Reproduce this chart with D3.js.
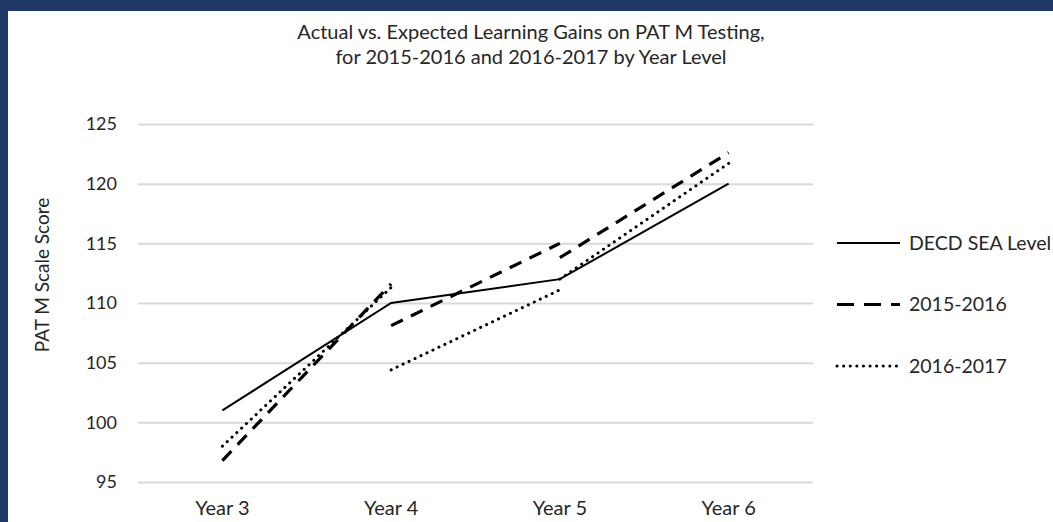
<!DOCTYPE html>
<html lang="en">
    <head>
        <meta charset="utf-8">
        <title>PAT M learning gains</title>
        <script src="https://d3js.org/d3.v7.min.js"></script>
        <style type="text/css">
        body {
            margin: 0;
            background: #1f3864;
        }
        svg {
            display: block;
        }
        text {
            font-family: Lato, "Open Sans", sans-serif;
            fill: #262626;
        }
        .title {
            font-size: 20px;
        }
        .yaxis .tick text {
            font-size: 18px;
        }
        .xaxis .tick text {
            font-size: 20px;
        }
        .legend {
            font-size: 19.5px;
        }
        </style>
    </head>
    <body>
        <svg width="1053" height="522"></svg>

    <script type="text/javascript">

            // data
            const years = ["Year 3", "Year 4", "Year 5", "Year 6"];
            const seaLevel = [101, 110, 112, 120];

            // cohorts are drawn as one segment per year-to-year gain
            const cohort1516Start = [96.8, 108.1, 113.8];
            const cohort1516End = [111.6, 115.0, 122.6];
            const cohort1617Start = [98.0, 104.4, 112.0];
            const cohort1617End = [111.3, 111.1, 121.7];

            const yTicks = [95, 100, 105, 110, 115, 120, 125];
            const legendNames = ["DECD SEA Level", "2015-2016", "2016-2017"];

            const svg = d3.select("svg");
            const w = 1053;
            const h = 522;

            //white panel inside the navy frame
            svg.append("rect")
               .attr("x", 8)
               .attr("y", 11)
               .attr("width", w - 8)
               .attr("height", h - 11)
               .attr("fill", "white");

            const plotLeft = 138;
            const plotRight = 813;
            const plotTop = 124;
            const plotBottom = 482;

            const xScale = d3.scaleBand()
                             .domain(years)
                             .range([plotLeft, plotRight]);

            const yScale = d3.scaleLinear()
                             .domain([95, 125])
                             .range([plotBottom, plotTop]);

            const xc = d => xScale(d) + xScale.bandwidth() / 2;

            //gridlines + left labels
            const leftAxis = d3.axisLeft(yScale)
                               .tickValues(yTicks)
                               .tickSize(-(plotRight - plotLeft))
                               .tickPadding(21);

            const gy = svg.append("g")
                          .attr("class", "yaxis")
                          .attr("transform", "translate(" + plotLeft + ",0)")
                          .call(leftAxis);
            gy.select(".domain").remove();
            gy.selectAll(".tick line")
              .attr("stroke", "#d9d9d9")
              .attr("stroke-width", 2);

            const bottomAxis = d3.axisBottom(xScale)
                                 .tickSize(0)
                                 .tickPadding(19);

            const gx = svg.append("g")
                          .attr("class", "xaxis")
                          .attr("transform", "translate(0," + plotBottom + ")")
                          .call(bottomAxis);
            gx.select(".domain").remove();

            svg.selectAll("g[font-family]")
               .attr("font-family", null)
               .attr("font-size", null);

            //lines
            const line = d3.line()
                           .x(d => xc(d[0]))
                           .y(d => yScale(d[1]));

            const styles = [
                {width: 2, dash: null},
                {width: 3.2, dash: "13,9"},
                {width: 3, dash: "0.1,6.5"}
            ];

            svg.append("path")
               .datum(years.map((y, i) => [y, seaLevel[i]]))
               .attr("d", line)
               .attr("fill", "none")
               .attr("stroke", "black")
               .attr("stroke-width", styles[0].width);

            const segs = (starts, ends) => starts.map((s, i) => [[years[i], s], [years[i + 1], ends[i]]]);

            svg.append("g")
               .selectAll("path")
               .data(segs(cohort1516Start, cohort1516End))
               .enter()
               .append("path")
               .attr("d", line)
               .attr("fill", "none")
               .attr("stroke", "black")
               .attr("stroke-width", styles[1].width)
               .attr("stroke-dasharray", styles[1].dash);

            svg.append("g")
               .selectAll("path")
               .data(segs(cohort1617Start, cohort1617End))
               .enter()
               .append("path")
               .attr("d", line)
               .attr("fill", "none")
               .attr("stroke", "black")
               .attr("stroke-width", styles[2].width)
               .attr("stroke-linecap", "round")
               .attr("stroke-dasharray", styles[2].dash);

            //legend
            const legend = svg.append("g")
                              .selectAll("g")
                              .data(legendNames)
                              .enter()
                              .append("g")
                              .attr("transform", (d, i) => "translate(837," + (243 + i * 61.5) + ")");

            legend.append("line")
                  .attr("x1", 0)
                  .attr("x2", 63)
                  .attr("stroke", "black")
                  .attr("stroke-width", (d, i) => styles[i].width)
                  .attr("stroke-linecap", (d, i) => i == 2 ? "round" : "butt")
                  .attr("stroke-dasharray", (d, i) => i == 1 ? "17,10" : styles[i].dash);

            legend.append("text")
                  .attr("class", "legend")
                  .attr("x", 72)
                  .attr("dy", "0.35em")
                  .text(d => d);

            //axis title
            svg.append("text")
               .attr("transform", "translate(49,275) rotate(-90)")
               .attr("text-anchor", "middle")
               .style("font-size", "19px")
               .text("PAT M Scale Score");

            //chart title
            svg.append("text")
               .attr("class", "title")
               .attr("x", 531)
               .attr("y", 38.5)
               .attr("text-anchor", "middle")
               .text("Actual vs. Expected Learning Gains on PAT M Testing,");

            svg.append("text")
               .attr("class", "title")
               .attr("x", 531)
               .attr("y", 64)
               .attr("text-anchor", "middle")
               .text("for 2015-2016 and 2016-2017 by Year Level");
        </script>
    </body>
</html>
